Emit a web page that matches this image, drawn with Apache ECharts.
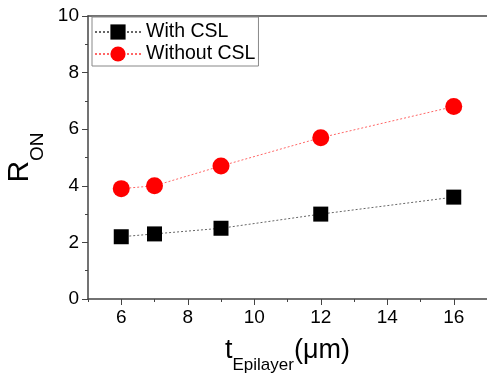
<!DOCTYPE html>
<html>
<head>
<meta charset="utf-8">
<script src="https://cdn.jsdelivr.net/npm/echarts@6/dist/echarts.min.js"></script>
<style>
  html, body { margin: 0; padding: 0; background: #fff; }
  #chart { width: 487px; height: 374px; }
</style>
</head>
<body>
<div id="chart"></div>
<script>
// thickness of the epilayer (um)
var thickness = [6, 7, 9, 12, 16];
// on-resistance
var withCSL = [2.2, 2.3, 2.5, 3.0, 3.6];
var withoutCSL = [3.9, 4.0, 4.7, 5.7, 6.8];
var seriesNames = ['With CSL', 'Without CSL'];
var xMajorTicks = [6, 8, 10, 12, 14, 16];

function pairs(xs, ys) {
    var out = [];
    for (var i = 0; i < xs.length; i++) {
        out.push([xs[i], ys[i]]);
    }
    return out;
}

var font = 'Liberation Sans, Arial, sans-serif';
var axisColor = '#444';

var chart = echarts.init(document.getElementById('chart'));

var option = {
    animation: false,
    grid: { left: 88, top: 16, right: 0, bottom: 75, containLabel: false, outerBoundsMode: 'none' },
    legend: {
        left: 92,
        top: 17,
        orient: 'vertical',
        data: seriesNames,
        itemWidth: 46,
        itemHeight: 19,
        itemGap: 2,
        padding: [5, 3, 2, 2],
        borderColor: '#888',
        borderWidth: 1,
        textStyle: { fontFamily: font, fontSize: 19.5, color: '#000' }
    },
    xAxis: [{
        type: 'value',
        min: 5,
        max: 17,
        position: 'bottom',
        splitLine: { show: false },
        axisLine: { lineStyle: { color: axisColor, width: 1.5 } },
        axisTick: { customValues: xMajorTicks, length: 6, lineStyle: { color: axisColor } },
        axisLabel: { customValues: xMajorTicks, fontFamily: font, fontSize: 19, color: '#000', margin: 9 },
        name: '{m|t}{s|Epilayer}{m|(\u03bcm)}',
        nameLocation: 'middle',
        nameGap: 38,
        nameTextStyle: {
            rich: {
                m: { fontFamily: font, fontSize: 27, color: '#000', padding: [0, 0, 10, 0], verticalAlign: 'top' },
                s: { fontFamily: font, fontSize: 17, color: '#000', verticalAlign: 'bottom' }
            }
        }
    }, {
        // minor ticks
        type: 'value',
        min: 5,
        max: 17,
        interval: 1,
        position: 'bottom',
        splitLine: { show: false },
        axisLine: { show: false },
        axisTick: { length: 3, lineStyle: { color: axisColor } },
        axisLabel: { show: false }
    }, {
        // top frame
        type: 'value',
        min: 5,
        max: 17,
        position: 'top',
        splitLine: { show: false },
        axisLine: { lineStyle: { color: axisColor, width: 1.5 } },
        axisTick: { show: false },
        axisLabel: { show: false }
    }],
    yAxis: {
        type: 'value',
        min: 0,
        max: 10,
        interval: 2,
        splitLine: { show: false },
        axisLine: { show: true, lineStyle: { color: axisColor, width: 1.5 } },
        axisTick: { show: true, length: 6, lineStyle: { color: axisColor } },
        minorTick: { show: true, splitNumber: 2, length: 3, lineStyle: { color: axisColor } },
        axisLabel: { fontFamily: font, fontSize: 19, color: '#000', margin: 9 },
        name: '{m|R}{s|ON}',
        nameLocation: 'middle',
        nameRotate: 90,
        nameGap: 41,
        nameTextStyle: {
            rich: {
                m: { fontFamily: font, fontSize: 30, color: '#000', padding: [0, 0, 12, 0], verticalAlign: 'top' },
                s: { fontFamily: font, fontSize: 19, color: '#000', verticalAlign: 'bottom' }
            }
        }
    },
    series: [{
        name: seriesNames[0],
        type: 'line',
        data: pairs(thickness, withCSL),
        symbol: 'rect',
        symbolSize: 15,
        itemStyle: { color: '#000' },
        lineStyle: { color: '#666', width: 1, type: [2, 2] }
    }, {
        name: seriesNames[1],
        type: 'line',
        data: pairs(thickness, withoutCSL),
        symbol: 'circle',
        symbolSize: 17,
        itemStyle: { color: '#ff0000' },
        lineStyle: { color: '#ff6666', width: 1, type: [2, 2] }
    }]
};

chart.setOption(option);
</script>
</body>
</html>
